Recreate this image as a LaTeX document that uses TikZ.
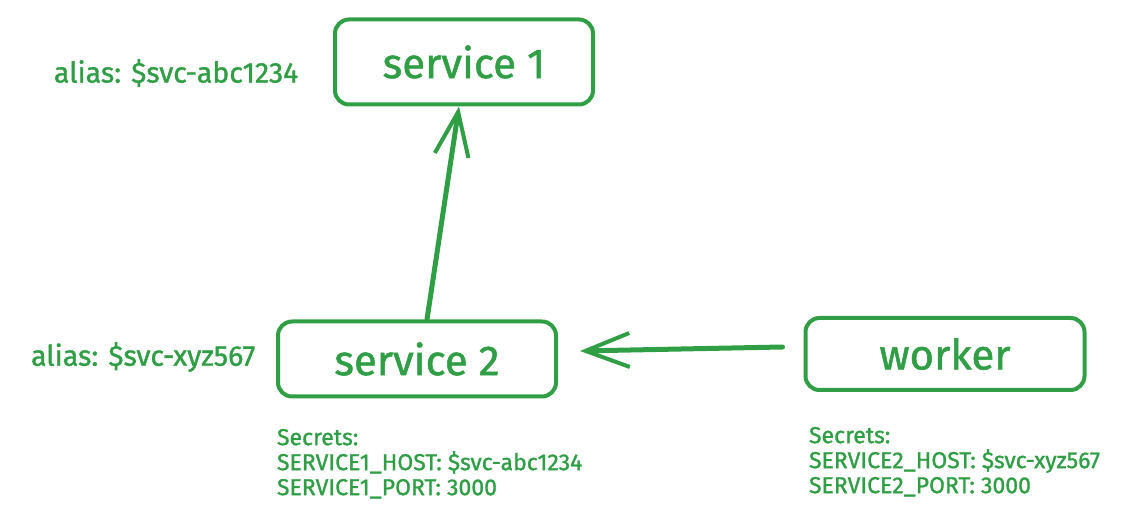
\documentclass[tikz,border=0pt]{standalone}
\usepackage{fontspec}
\setmainfont{Fira Sans}[FakeBold=1.2]
\usepackage{xcolor}
\usetikzlibrary{arrows.meta,positioning}
\definecolor{grn}{HTML}{2F9E44}

\begin{document}
\begin{tikzpicture}[x=0.5pt, y=-0.5pt, grn, line width=2pt, line cap=round,
    box/.style={rectangle, draw, rounded corners=7pt, font=\fontsize{21}{25}\selectfont},
    alias/.style={font=\fontsize{14.3}{17}\selectfont},
    secret/.style={align=left, anchor=north west, inner sep=0pt, font=\fontsize{11.5}{12.5}\selectfont},
    link/.style={line width=2.5pt, -{Straight Barb[length=22pt, width=17pt, line width=2pt]}}]
    \useasboundingbox (0,0) rectangle (1148,523);
    \node (s1) [box, minimum width=129pt, minimum height=42.5pt] at (464,62) {service 1};
    \node (s2) [box, minimum width=139pt, minimum height=37.5pt] at (417,359) {service 2};
    \node (wk) [box, minimum width=139.5pt, minimum height=36pt] at (945,354) {worker};

    \node (a1) [alias, anchor=east] at (307,73) {alias: \$svc-abc1234};
    \node (a2) [alias, anchor=east] at (264,357) {alias: \$svc-xyz567};

    \node (sec2) [secret] at (275,427) {Secrets:\\SERVICE1\_HOST: \$svc-abc1234\\SERVICE1\_PORT: 3000};
    \node (secw) [secret] at (807,425) {Secrets:\\SERVICE2\_HOST: \$svc-xyz567\\SERVICE2\_PORT: 3000};

    \draw [link] (s2.north -| 427,0) -- (s1.south -| 459,0);
    \draw [link] ([xshift=-10.5pt, yshift=3.5pt]wk.west) -- ([xshift=11pt, yshift=4pt]s2.east);
\end{tikzpicture}
\end{document}
